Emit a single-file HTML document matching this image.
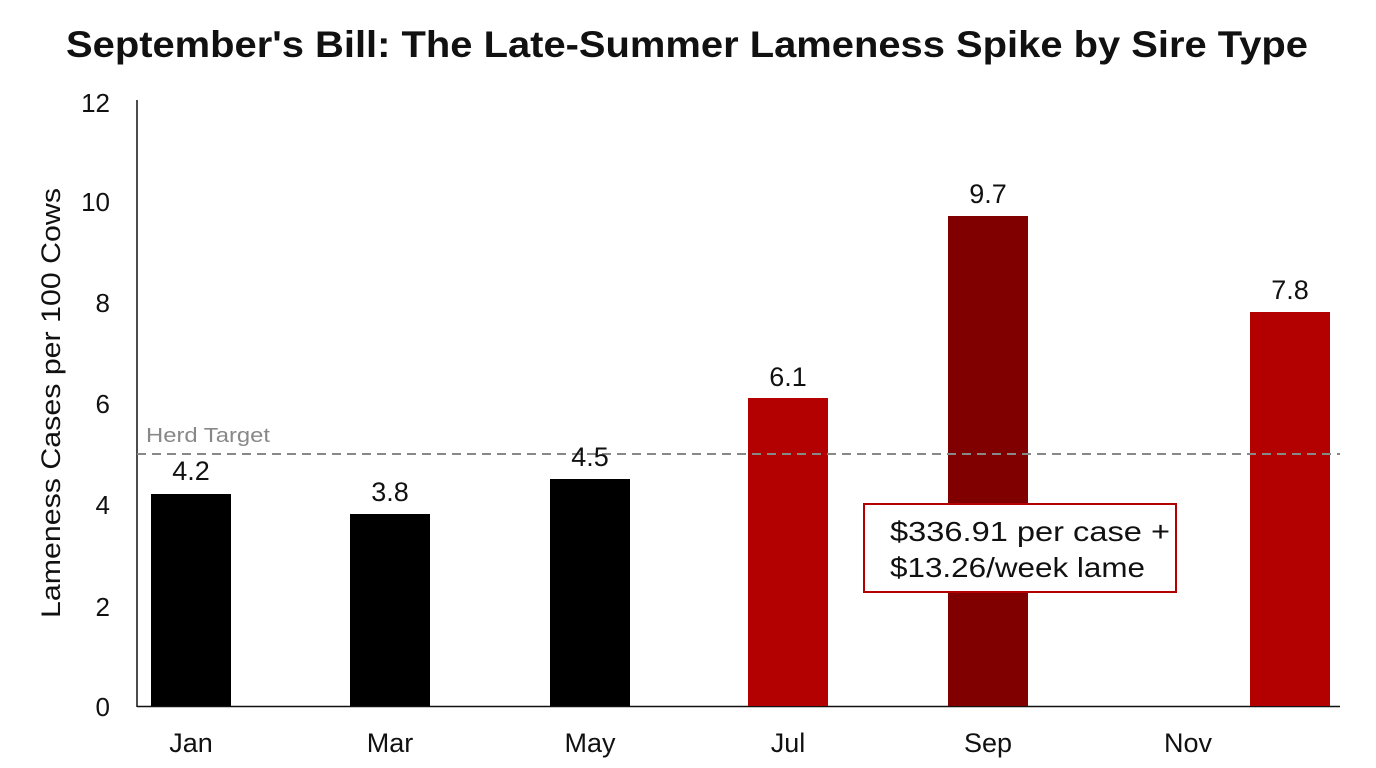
<!DOCTYPE html>
<html><head><meta charset="utf-8"><style>
body{margin:0;background:#fff;width:1376px;height:768px;overflow:hidden}
svg{display:block}
text{font-family:"Liberation Sans",Arial,sans-serif}
</style></head><body>
<svg width="1376" height="768" viewBox="0 0 1376 768">
<text x="66" y="57" font-size="37" font-weight="bold" fill="#111" textLength="1242" lengthAdjust="spacingAndGlyphs">September's Bill: The Late-Summer Lameness Spike by Sire Type</text>
<g font-size="26" fill="#111" text-anchor="end">
<text x="110" y="112">12</text>
<text x="110" y="211">10</text>
<text x="110" y="312">8</text>
<text x="110" y="413">6</text>
<text x="110" y="514">4</text>
<text x="110" y="616">2</text>
<text x="110" y="716">0</text>
</g>
<text transform="translate(60,618) rotate(-90)" font-size="27" fill="#111" textLength="430" lengthAdjust="spacingAndGlyphs">Lameness Cases per 100 Cows</text>
<line x1="137" y1="100" x2="137" y2="707" stroke="#111" stroke-width="1.5"/>
<line x1="137" y1="706.5" x2="1340" y2="706.5" stroke="#111" stroke-width="1.5"/>
<rect x="151" y="494" width="80" height="212" fill="#000"/>
<rect x="350" y="514" width="80" height="192" fill="#000"/>
<rect x="550" y="479" width="80" height="227" fill="#000"/>
<rect x="748" y="398" width="80" height="308" fill="#b30000"/>
<rect x="948" y="216" width="80" height="490" fill="#800000"/>
<rect x="1250" y="312" width="80" height="394" fill="#b30000"/>
<line x1="137" y1="454" x2="1340" y2="454" stroke="#888" stroke-width="2" stroke-dasharray="9,6"/>
<text x="146" y="442" font-size="20" fill="#888" textLength="124" lengthAdjust="spacingAndGlyphs">Herd Target</text>
<g font-size="27" fill="#111" text-anchor="middle">
<text x="191" y="480">4.2</text>
<text x="390" y="501">3.8</text>
<text x="590" y="466">4.5</text>
<text x="788" y="386">6.1</text>
<text x="988" y="203">9.7</text>
<text x="1290" y="299">7.8</text>
<text x="191" y="752">Jan</text>
<text x="390" y="752">Mar</text>
<text x="590" y="752">May</text>
<text x="788" y="752">Jul</text>
<text x="988" y="752">Sep</text>
<text x="1188" y="752">Nov</text>
</g>
<rect x="864" y="504" width="312" height="88" fill="#fff" stroke="#b30000" stroke-width="2"/>
<g font-size="28" fill="#111">
<text x="890" y="541" textLength="280" lengthAdjust="spacingAndGlyphs">$336.91 per case +</text>
<text x="890" y="577" textLength="255" lengthAdjust="spacingAndGlyphs">$13.26/week lame</text>
</g>
</svg>
</body></html>
